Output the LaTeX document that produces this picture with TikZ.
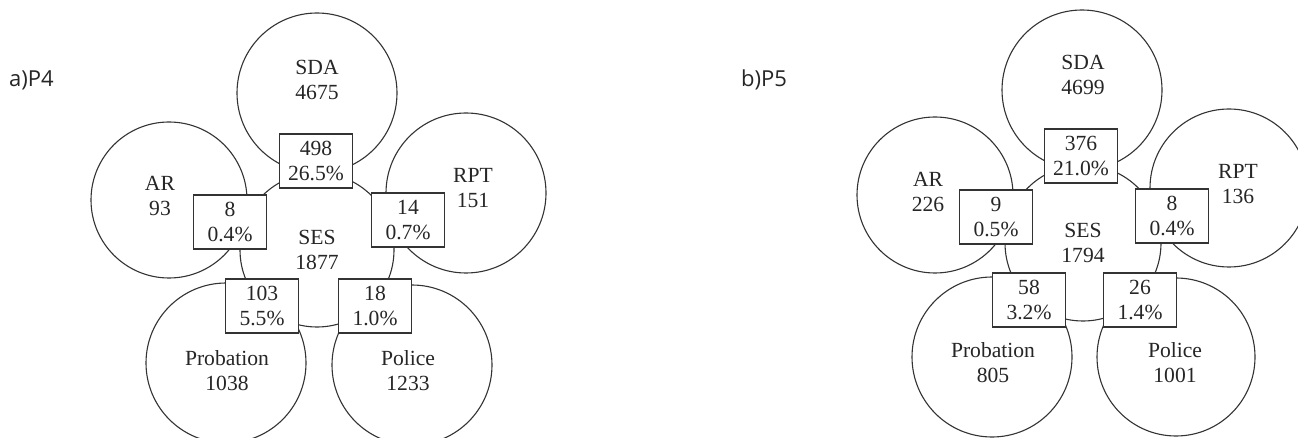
\documentclass[tikz,border=0pt]{standalone}
\usepackage{fontspec}
\setmainfont{Liberation Serif}
\newfontfamily\labfont{Open Sans}
\begin{document}
\begin{tikzpicture}[x=1pt,y=-1pt,
  setc/.style={circle,draw=black!80,line width=1.1pt,inner sep=0pt,minimum size=#1},
  lbl/.style={align=center,font=\fontsize{21.6}{25}\selectfont,text=black!85,inner sep=0pt},
  ibox/.style={draw=black!80,line width=1.3pt,fill=white,minimum width=73pt,minimum height=54pt,
     inner sep=0pt,align=center,font=\fontsize{21.6}{25}\selectfont,text=black!85},
  panel/.style={font=\labfont\fontsize{22}{26}\selectfont,text=black!85,anchor=west,inner sep=0pt}]
\clip (0,0) rectangle (1298,438);
\fill[white] (0,0) rectangle (1298,438);
% ---------- panel a ----------
\node[panel] (pa) at (9,80) {a)P4};
\node[setc=160pt] (aSDA) at (317,93) {};
\node[setc=156pt] (aAR) at (169,200) {};
\node[setc=160pt] (aRPT) at (466,193) {};
\node[setc=154pt] (aSES) at (317,250) {};
\node[setc=160pt] (aPro) at (226,363) {};
\node[setc=160pt] (aPol) at (412,365) {};
\node[lbl] (taSDA) at (317,80) {SDA\\4675};
\node[lbl] (taAR) at (160,196) {AR\\93};
\node[lbl] (taRPT) at (473,188) {RPT\\151};
\node[lbl] (taSES) at (317,250) {SES\\1877};
\node[lbl] (taPro) at (227,371) {Probation\\1038};
\node[lbl] (taPol) at (408,371) {Police\\1233};
\node[ibox] (aB1) at (316,161) {498\\26.5\%};
\node[ibox] (aB2) at (230,222) {8\\0.4\%};
\node[ibox] (aB3) at (408,220) {14\\0.7\%};
\node[ibox] (aB4) at (262,306) {103\\5.5\%};
\node[ibox] (aB5) at (375,306) {18\\1.0\%};
% ---------- panel b ----------
\node[panel] (pb) at (741,80) {b)P5};
\node[setc=160pt] (bSDA) at (1082,90) {};
\node[setc=156pt] (bAR) at (935,195) {};
\node[setc=158pt] (bRPT) at (1229,188) {};
\node[setc=156pt] (bSES) at (1083,243) {};
\node[setc=160pt] (bPro) at (992,357) {};
\node[setc=158pt] (bPol) at (1176,357) {};
\node[lbl] (tbSDA) at (1083,75) {SDA\\4699};
\node[lbl] (tbAR) at (928,192) {AR\\226};
\node[lbl] (tbRPT) at (1238,184) {RPT\\136};
\node[lbl] (tbSES) at (1083,243) {SES\\1794};
\node[lbl] (tbPro) at (993,363) {Probation\\805};
\node[lbl] (tbPol) at (1175,363) {Police\\1001};
\node[ibox] (bB1) at (1081,156) {376\\21.0\%};
\node[ibox] (bB2) at (996,217) {9\\0.5\%};
\node[ibox] (bB3) at (1172,216) {8\\0.4\%};
\node[ibox] (bB4) at (1029,300) {58\\3.2\%};
\node[ibox] (bB5) at (1140,300) {26\\1.4\%};
\end{tikzpicture}
\end{document}
